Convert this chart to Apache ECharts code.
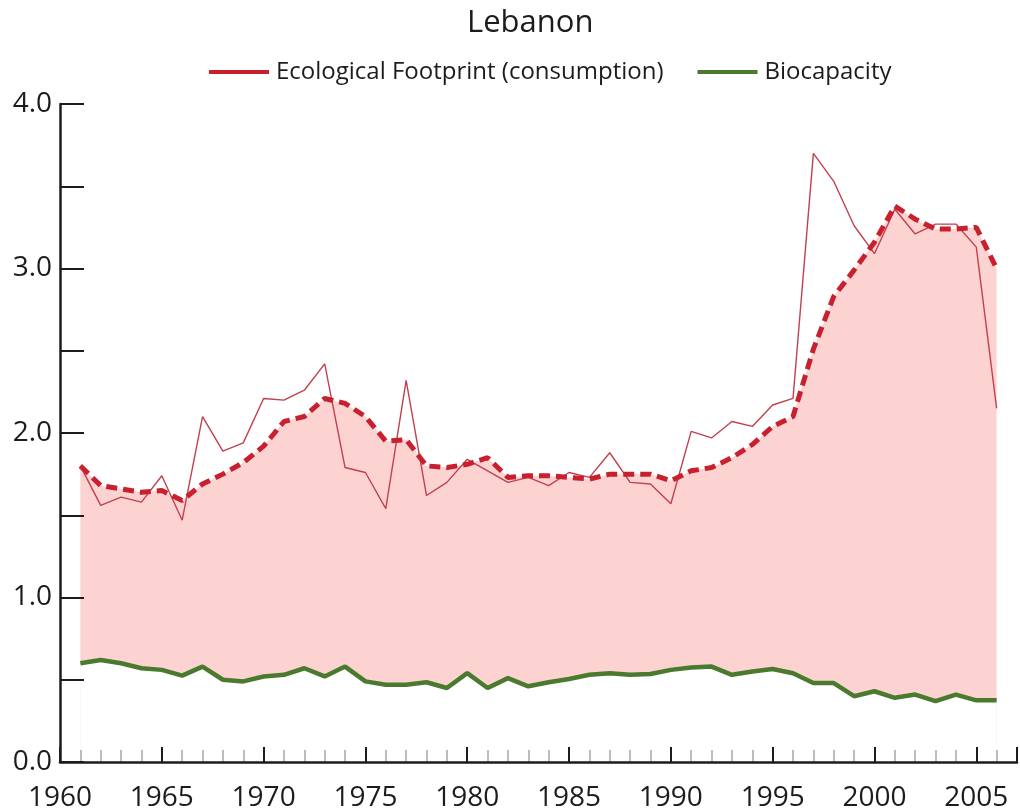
<!DOCTYPE html>
<html>
<head>
<meta charset="utf-8">
<title>Lebanon</title>
<script src="https://cdn.jsdelivr.net/npm/echarts@6/dist/echarts.min.js"></script>
<style>
  html, body { margin: 0; padding: 0; background: #fff; }
  #chart { width: 1020px; height: 812px; }
</style>
</head>
<body>
<div id="chart"></div>
<script>
var years = [1961, 1962, 1963, 1964, 1965, 1966, 1967, 1968, 1969, 1970,
  1971, 1972, 1973, 1974, 1975, 1976, 1977, 1978, 1979, 1980,
  1981, 1982, 1983, 1984, 1985, 1986, 1987, 1988, 1989, 1990,
  1991, 1992, 1993, 1994, 1995, 1996, 1997, 1998, 1999, 2000,
  2001, 2002, 2003, 2004, 2005, 2006];

// footprint, smoothed (dashed)
var footprint = [1.80, 1.68, 1.66, 1.64, 1.65, 1.59, 1.69, 1.75, 1.82, 1.92,
  2.07, 2.10, 2.21, 2.18, 2.10, 1.95, 1.96, 1.80, 1.79, 1.81,
  1.85, 1.73, 1.74, 1.74, 1.73, 1.72, 1.75, 1.75, 1.75, 1.71,
  1.77, 1.79, 1.85, 1.93, 2.04, 2.10, 2.51, 2.83, 2.99, 3.16,
  3.38, 3.30, 3.24, 3.24, 3.25, 3.00];

// footprint, raw yearly values (thin line)
var footprintRaw = [1.80, 1.56, 1.61, 1.58, 1.74, 1.47, 2.10, 1.89, 1.94, 2.21,
  2.20, 2.26, 2.42, 1.79, 1.76, 1.54, 2.32, 1.62, 1.70, 1.84,
  1.77, 1.70, 1.73, 1.68, 1.76, 1.73, 1.88, 1.70, 1.69, 1.57,
  2.01, 1.97, 2.07, 2.04, 2.17, 2.21, 3.70, 3.53, 3.26, 3.09,
  3.36, 3.21, 3.27, 3.27, 3.13, 2.15];

var biocapacity = [0.60, 0.62, 0.60, 0.57, 0.56, 0.525, 0.58, 0.50, 0.49, 0.52,
  0.53, 0.57, 0.52, 0.58, 0.49, 0.47, 0.47, 0.485, 0.45, 0.54,
  0.45, 0.51, 0.46, 0.485, 0.505, 0.53, 0.54, 0.53, 0.535, 0.56,
  0.575, 0.58, 0.53, 0.55, 0.565, 0.54, 0.48, 0.48, 0.40, 0.43,
  0.39, 0.41, 0.37, 0.41, 0.375, 0.375];

var xTicks = [1960, 1965, 1970, 1975, 1980, 1985, 1990, 1995, 2000, 2005];
var yTicks = [0, 1, 2, 3, 4];

function pairs(vals) {
  return years.map(function (y, i) { return [y, vals[i]]; });
}

var font = 'Open Sans';
var ink = '#1c1c1c';

var chart = echarts.init(document.getElementById('chart'));
chart.setOption({
  animation: false,
  backgroundColor: '#fff',
  title: {
    text: 'Lebanon',
    left: 462,
    top: 3,
    textStyle: { fontFamily: font, fontSize: 31, fontWeight: 'normal', color: ink }
  },
  legend: {
    data: [
      { name: 'Ecological Footprint (consumption)', icon: 'rect' },
      { name: 'Biocapacity', icon: 'rect' }
    ],
    left: 204,
    top: 55,
    itemWidth: 60,
    itemHeight: 4,
    itemGap: 34,
    selectedMode: false,
    textStyle: { fontFamily: font, fontSize: 24, color: ink, padding: [0, 0, 0, 2] }
  },
  grid: { left: 60, right: -7, top: 104, bottom: 48 },
  xAxis: [{
    type: 'value',
    min: 1960,
    max: 2007,
    interval: 5,
    z: 5,
    axisLine: { lineStyle: { color: ink, width: 2.5 } },
    axisTick: { inside: true, length: 15, lineStyle: { color: ink, width: 2 } },
    axisLabel: {
      fontFamily: font, fontSize: 28, color: ink, margin: 22,
      formatter: function (v) { return xTicks.indexOf(v) >= 0 ? String(v) : ''; }
    },
    splitLine: { show: false }
  }, {
    type: 'value',
    position: 'bottom',
    min: 1960,
    max: 2007,
    interval: 1,
    z: 4,
    axisLine: { show: false },
    axisTick: { inside: true, length: 12, lineStyle: { color: '#a8a8a8', width: 1.5 } },
    axisLabel: { show: false },
    splitLine: { show: false }
  }],
  yAxis: {
    type: 'value',
    min: 0,
    max: 4,
    interval: 0.5,
    z: 5,
    axisLine: { show: true, lineStyle: { color: ink, width: 2.5 } },
    axisTick: { show: true, inside: true, length: 24, lineStyle: { color: ink, width: 2 } },
    axisLabel: {
      fontFamily: font, fontSize: 28, color: ink, margin: 8,
      formatter: function (v) { return yTicks.indexOf(v) >= 0 ? v.toFixed(1) : ''; }
    },
    splitLine: { show: false }
  },
  series: [{
    // pink band: footprint area down to zero, then masked below biocapacity
    name: 'fill',
    type: 'line',
    data: pairs(footprint),
    symbol: 'none',
    silent: true,
    lineStyle: { opacity: 0 },
    areaStyle: { color: '#fdd3d1', opacity: 1 },
    z: 1
  }, {
    name: 'mask',
    type: 'line',
    data: pairs(biocapacity),
    symbol: 'none',
    silent: true,
    lineStyle: { opacity: 0 },
    areaStyle: { color: '#ffffff', opacity: 1 },
    z: 1
  }, {
    name: 'Footprint yearly',
    type: 'line',
    data: pairs(footprintRaw),
    symbol: 'none',
    lineStyle: { color: '#c2404e', width: 1.4 },
    z: 3
  }, {
    name: 'Ecological Footprint (consumption)',
    type: 'line',
    data: pairs(footprint),
    symbol: 'none',
    itemStyle: { color: '#c8202f' },
    lineStyle: { color: '#c8202f', width: 5, type: [11, 6] },
    z: 3
  }, {
    name: 'Biocapacity',
    type: 'line',
    data: pairs(biocapacity),
    symbol: 'none',
    itemStyle: { color: '#4a7a2e' },
    lineStyle: { color: '#4a7a2e', width: 4.5 },
    z: 3
  }]
});
</script>
</body>
</html>
